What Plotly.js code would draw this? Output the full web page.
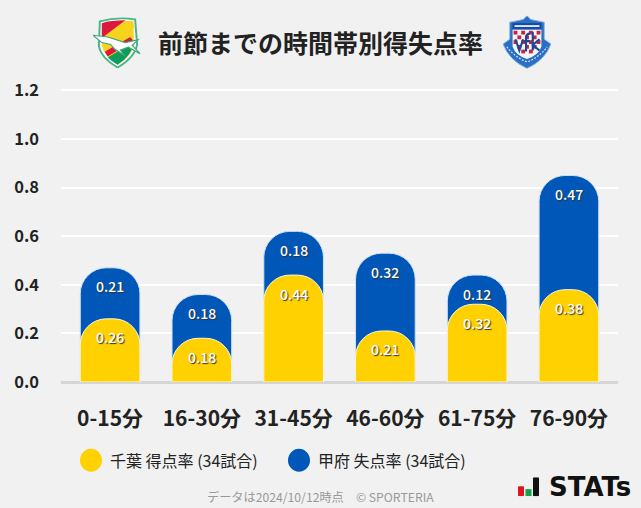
<!DOCTYPE html>
<html><head><meta charset="utf-8">
<script src="https://cdn.plot.ly/plotly-3.0.1.min.js"></script>
<style>html,body{margin:0;padding:0;background:#f1f1f1}</style></head>
<body><div id="chart" style="width:641px;height:508px"></div>
<script>
const categories = ['0-15分','16-30分','31-45分','46-60分','61-75分','76-90分'];
const chibaScored = [0.26,0.18,0.44,0.21,0.32,0.38];
const kofuConceded = [0.21,0.18,0.18,0.32,0.12,0.47];
const chibaName = '千葉 得点率 (34試合)';
const kofuName = '甲府 失点率 (34試合)';
const titleText = '前節までの時間帯別得失点率';
const footerText = 'データは2024/10/12時点　© SPORTERIA';
const yTicks = [0,0.2,0.4,0.6,0.8,1.0,1.2];

const FONT = '"Noto Sans CJK JP","Noto Sans",sans-serif';
const totals = chibaScored.map((v,i)=>v+kofuConceded[i]);
const fmt = v=>v.toFixed(2);
const uri = s=>'data:image/svg+xml;utf8,'+encodeURIComponent(s);
const yMax = 1.21;
const L=61,W=557,H=292.5*yMax/1.2,T=90+292.5-H;
const px=x=>(x-L)/W, py=y=>(T+H-y)/H;

const chibaLogo = `<svg xmlns="http://www.w3.org/2000/svg" viewBox="0 0 50 56">
<path d="M7 5 Q25 0 43 3 L45 30 Q43 44 25 55 Q8 44 6 32Z" fill="#fff" stroke="#45b58a" stroke-width="2"/>
<path d="M9 7 Q25 3 41 5 L42 30 Q40 42 25 52 Q11 42 9 31Z" fill="#f6d31c"/>
<path d="M9 7 Q18 4 33 4 L9 23Z" fill="#dc1740"/>
<path d="M41 5 L42 12 L34 18 L28 16Z" fill="#f6d31c"/>
<path d="M12 38 L38 22 L41 26 L15 43Z" fill="#dc1740"/>
<path d="M15 44 L42 27 Q40 42 25 52 Q19 48 15 44Z" fill="#0f9b5b"/>
<path d="M0 20 L15 22 L33 28 L46 25 L40 31 L48 40 L36 33 L28 36 L32 42 L22 35 L18 30 L9 28Z" fill="#fff" stroke="#3da77c" stroke-width="1.2"/>
</svg>`;
const kofuLogo = `<svg xmlns="http://www.w3.org/2000/svg" viewBox="0 0 50 56">
<path d="M25 0 L29 4 L43 7 L43 25 L50 30 Q44 47 25 56 Q6 47 0 30 L7 25 L7 7 L21 4Z" fill="#2a6fc4" stroke="#8fb6e6" stroke-width="1"/>
<rect x="10" y="8" width="30" height="6" fill="#16489b"/>
<rect x="12" y="10" width="26" height="2" fill="#dfe8f5"/>
<path d="M10 15 H40 V33 Q37 42 25 46 Q13 42 10 33Z" fill="#f5f5f5"/>
<g fill="#cb2340"><rect x="11" y="16" width="4" height="4"/><rect x="19" y="16" width="4" height="4"/><rect x="27" y="16" width="4" height="4"/><rect x="35" y="16" width="4" height="4"/><rect x="15" y="21" width="4" height="4"/><rect x="23" y="21" width="4" height="4"/><rect x="31" y="21" width="4" height="4"/><rect x="11" y="26" width="4" height="4"/><rect x="19" y="26" width="4" height="4"/><rect x="27" y="26" width="4" height="4"/><rect x="35" y="26" width="4" height="4"/><rect x="15" y="31" width="4" height="4"/><rect x="23" y="31" width="4" height="4"/><rect x="31" y="31" width="4" height="4"/><rect x="19" y="36" width="4" height="4"/><rect x="27" y="36" width="4" height="4"/></g>
<g stroke="#16489b" stroke-width="2.2" fill="none"><path d="M13 25 L17 37 L21 25"/><path d="M24 38 V24 Q24 19 28 19 M22 27 H28"/><path d="M31 17 V37 M38 25 L31 31 L38 37"/></g>
<path d="M4 33 Q12 44 25 49 Q38 44 46 33" stroke="#dfe8f5" stroke-width="1.2" fill="none" stroke-dasharray="2 1.5"/>
</svg>`;
const statsLogo = `<svg xmlns="http://www.w3.org/2000/svg" viewBox="0 0 21 19">
<rect x="0" y="9" width="6" height="10" rx="1" fill="#e0131f"/><rect x="7.5" y="12" width="6" height="7" fill="#12a24a"/><rect x="15" y="0" width="6" height="19" rx="1" fill="#111"/>
</svg>`;

const labelAnn = (vals,tops)=>vals.map((v,i)=>({
  x:categories[i], y:tops[i], xref:'x', yref:'y', text:fmt(v), showarrow:false, yshift:-18.5,
  font:{family:FONT,size:14,color:'#fff',weight:500,shadow:'1px 1px 1px #333'}
}));

const traces = [
 {type:'bar',x:categories,y:totals,name:kofuName,width:0.65,
  marker:{color:'#0057b8',line:{color:'#cfe0f2',width:1}},hoverinfo:'skip'},
 {type:'bar',x:categories,y:chibaScored,name:chibaName,width:0.65,yaxis:'y2',
  marker:{color:'#ffd100',line:{color:'#fdf7d8',width:1}},hoverinfo:'skip'}
];
const legendDots = [[91,chibaName,'#ffd100',108],[299,kofuName,'#0057b8',316]];
const note = (x,y,text,font,extra)=>Object.assign({xref:'paper',yref:'paper',x:px(x),y:py(y),yanchor:'middle',text,showarrow:false,font},extra||{});
const layout = {
 width:641,height:508,paper_bgcolor:'#f1f1f1',plot_bgcolor:'#f1f1f1',
 margin:{l:L,r:641-L-W,t:T,b:508-T-H},
 barmode:'overlay',barcornerradius:26,showlegend:false,
 font:{family:FONT},
 xaxis:{type:'category',range:[-0.535,5.535],showgrid:false,zeroline:false,showline:false,ticks:'',
  tickfont:{family:FONT,size:21,color:'#222',weight:700},tickvals:categories,ticktext:categories,ticklabelstandoff:22},
 yaxis:{range:[0,yMax],tickvals:yTicks,ticktext:yTicks.map(v=>v.toFixed(1)),gridcolor:'#ffffff',gridwidth:2,
  zeroline:true,zerolinecolor:'#d6d6d6',zerolinewidth:3,showline:false,ticks:'',ticklabelstandoff:21,
  tickfont:{family:FONT,size:16.5,color:'#222',weight:700}},
 yaxis2:{range:[0,yMax],overlaying:'y',visible:false,showgrid:false,zeroline:false},
 annotations:[
  ...labelAnn(kofuConceded,totals),
  ...labelAnn(chibaScored,chibaScored),
  note(320.5,41,titleText,{family:FONT,size:25,color:'#222',weight:700}),
  ...legendDots.map(d=>note(d[3],461,d[1],{family:FONT,size:16,color:'#222'},{xanchor:'left'})),
  note(320.5,497.5,footerText,{family:FONT,size:12.2,color:'#999'}),
  note(547,488,'STATs',{family:'"DejaVu Sans",sans-serif',size:26,color:'#111',weight:700},{xanchor:'left'})
 ],
 shapes:legendDots.map(d=>({type:'circle',xref:'paper',yref:'paper',
   x0:px(d[0]-11),x1:px(d[0]+11),y0:py(461+11.5),y1:py(461-11.5),
   fillcolor:d[2],line:{width:0}})),
 images:[
  {source:uri(chibaLogo),xref:'paper',yref:'paper',x:px(93),y:py(16),sizex:49/W,sizey:52/H,xanchor:'left',yanchor:'top',sizing:'stretch'},
  {source:uri(kofuLogo),xref:'paper',yref:'paper',x:px(503),y:py(15),sizex:48/W,sizey:53/H,xanchor:'left',yanchor:'top',sizing:'stretch'},
  {source:uri(statsLogo),xref:'paper',yref:'paper',x:px(518),y:py(478),sizex:21/W,sizey:19/H,xanchor:'left',yanchor:'top',sizing:'stretch'}
 ]
};
Plotly.newPlot('chart',traces,layout,{displayModeBar:false,responsive:false});
</script></body></html>
